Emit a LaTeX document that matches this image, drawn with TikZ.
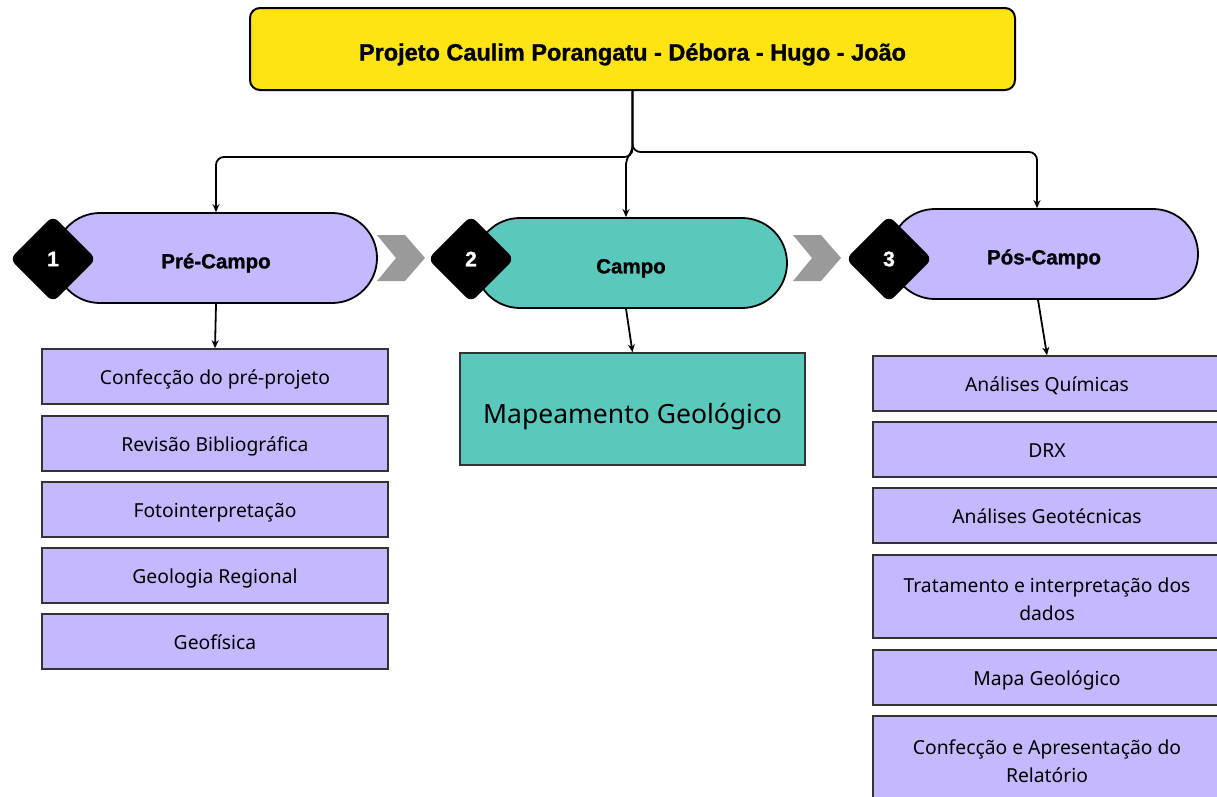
\documentclass[tikz,border=0pt]{standalone}
\usepackage{fontspec}
\setmainfont{Noto Sans}
\newfontfamily\headfont{Liberation Sans}[BoldFeatures={FakeBold=1.2}]
\usetikzlibrary{arrows.meta}
\definecolor{lav}{HTML}{C6B8FF}
\definecolor{tealc}{HTML}{5BC8BE}
\definecolor{yel}{HTML}{FFE414}
\definecolor{chev}{HTML}{9A9A9A}
\definecolor{bord}{HTML}{333333}
\tikzset{
  topbox/.style={draw=black, line width=2pt, fill=yel, rounded corners=10pt, minimum width=765pt, minimum height=82pt, inner sep=0pt, text height=28pt, text depth=5pt, font=\headfont\bfseries\fontsize{23.5}{27}\selectfont},
  phase/.style={draw=black, line width=1.8pt, rounded corners=45pt, minimum height=90pt, inner sep=0pt, text height=25pt, text depth=4.3pt, font=\headfont\bfseries\fontsize{20.5}{24}\selectfont},
  diamondbox/.style={fill=black, rotate=45, minimum size=61pt, rounded corners=7pt, inner sep=0pt},
  num/.style={text=white, font=\headfont\bfseries\fontsize{21}{24}\selectfont},
  item/.style={draw=bord, line width=1.6pt, fill=lav, minimum width=346pt, minimum height=55pt, inner sep=0pt, align=center, text height=21pt, text depth=4.5pt, font=\fontsize{19.3}{28}\selectfont},
  twoline/.style={text height=47pt, text depth=0pt},
  conn/.style={line width=1.8pt, -{Stealth[length=8pt,width=7pt]}},
  chevron/.style={fill=chev}
}
\begin{document}
\begin{tikzpicture}[x=1pt,y=-1pt]
\useasboundingbox (0,0) rectangle (1217,796);
\clip (0,0) rectangle (1217,796);
\fill[white] (0,0) rectangle (1217,796);

% top
\node[topbox] (top) at (632.5,49) {Projeto Caulim Porangatu - Débora - Hugo - João};

% phases
\node[phase, fill=lav, minimum width=322pt] (pre) at (216,258) {Pré-Campo};
\node[phase, fill=tealc, minimum width=312pt] (campo) at (631,263) {Campo};
\node[phase, fill=lav, minimum width=308pt] (pos) at (1044,254) {Pós-Campo};

% diamonds
\node[diamondbox] (d1) at (53,259) {};
\node[num] (n1) at (d1) {1};
\node[diamondbox] (d2) at (471,259) {};
\node[num] (n2) at (d2) {2};
\node[diamondbox] (d3) at (889,259) {};
\node[num] (n3) at (d3) {3};

% chevrons
\fill[chevron] (377,235) -- (405,235) -- (425,258) -- (405,281) -- (377,281) -- (396,258) -- cycle;
\fill[chevron] (793,235) -- (821,235) -- (841,258) -- (821,281) -- (793,281) -- (812,258) -- cycle;

% left items
\node[item] (c1) at (215,376.5) {Confecção do pré-projeto};
\node[item] (c2) at (215,443.5) {Revisão Bibliográfica};
\node[item] (c3) at (215,509.5) {Fotointerpretação};
\node[item] (c4) at (215,575.5) {Geologia Regional};
\node[item] (c5) at (215,641.5) {Geofísica};

% middle
\node[item, fill=tealc, minimum width=345pt, minimum height=112pt, text height=35pt, text depth=6.4pt, font=\fontsize{26.5}{30}\selectfont] (mapa) at (632.5,409) {Mapeamento Geológico};

% right items
\node[item, minimum width=348pt] (r1) at (1047,383.5) {Análises Químicas};
\node[item, minimum width=348pt] (r2) at (1047,449.5) {DRX};
\node[item, minimum width=348pt] (r3) at (1047,515.5) {Análises Geotécnicas};
\node[item, twoline, minimum width=348pt, minimum height=83pt] (r4) at (1047,596.5) {Tratamento e interpretação dos\\dados};
\node[item, minimum width=348pt] (r5) at (1047,677.5) {Mapa Geológico};
\node[item, twoline, minimum width=348pt, minimum height=86pt] (r6) at (1047,759) {Confecção e Apresentação do\\Relatório};

% connectors from top
\draw[conn, rounded corners=8pt] (top.south) |- (216,157) -- (pre.north);
\draw[conn, rounded corners=8pt] (top.south) |- (1037,152) -- ([xshift=-7pt]pos.north);
\draw[conn, rounded corners=5pt] (top.south) -- (632.5,150) -- (626,160) -- ([xshift=-5pt]campo.north);

% connectors down
\draw[conn] (pre.south) -- (c1.north);
\draw[conn] ([xshift=-5pt]campo.south) -- (mapa.north);
\draw[conn] ([xshift=-6pt]pos.south) -- (r1.north);
\end{tikzpicture}
\end{document}
